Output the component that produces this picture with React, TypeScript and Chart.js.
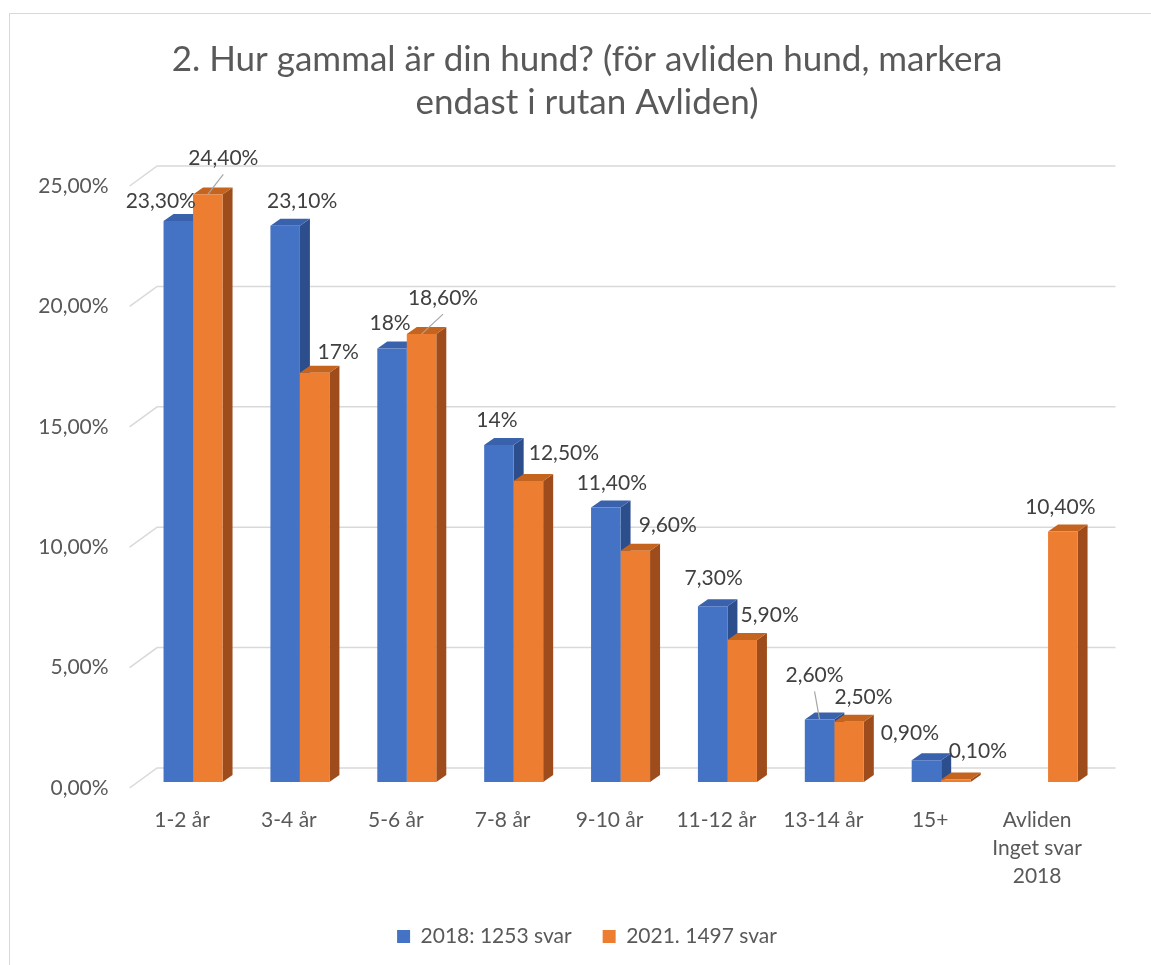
import React, { useEffect, useRef } from 'react';
import { Chart, registerables } from 'chart.js';

Chart.register(...registerables);

// ---- data ----
const categories: (string | string[])[] = [
  '1-2 år', '3-4 år', '5-6 år', '7-8 år', '9-10 år', '11-12 år', '13-14 år', '15+',
  ['Avliden', 'Inget svar', '2018'],
];
const series2018: (number | null)[] = [23.3, 23.1, 18, 14, 11.4, 7.3, 2.6, 0.9, null];
const series2021: (number | null)[] = [24.4, 17, 18.6, 12.5, 9.6, 5.9, 2.5, 0.1, 10.4];
const seriesNames = ['2018: 1253 svar', '2021. 1497 svar'];
const yTicks = [0, 5, 10, 15, 20, 25];
const titleLines = ['2. Hur gammal är din hund? (för avliden hund, markera', 'endast i rutan Avliden)'];

// label placement (offsets from bar top centre), as in the reference
const labelDx2018 = [-17.5, 17, -2, -2, 6, 1, -5, -16.5, 0];
const labelDy2018 = [-20, -25, -25, -25, -24, -28, -44, -27, 0];
const labelDx2021 = [15.5, 23.5, 21.5, 35.5, 32.5, 27.5, 14.5, 22, -2.5];
const labelDy2021 = [-36, -20, -36, -28, -26, -25, -25, -28, -24];
const leader2018 = [false, false, false, false, false, false, true, false, false];
const leader2021 = [true, false, true, false, false, false, false, false, false];

// ---- style ----
const FONT = 'Lato, "Open Sans", sans-serif';
const AXIS_COLOR = '#595959';
const LABEL_COLOR = '#404040';
const GRID_COLOR = '#D9D9D9';
const FRONT = ['#4472C4', '#ED7D31'];
const TOP = ['#3A62AC', '#C5641F'];
const SIDE = ['#2D4E8C', '#9E4C1B'];
const BAR_DX = 10;
const BAR_DY = 7;
const TEXT_SIZE = 21;

const fmt = (v: number) => (Number.isInteger(v) ? `${v}%` : `${v.toFixed(2).replace('.', ',')}%`);

const framePlugin = {
  id: 'frame',
  beforeDraw(chart: any) {
    const { ctx } = chart;
    ctx.save();
    ctx.fillStyle = '#ffffff';
    ctx.fillRect(0, 0, chart.width, chart.height);
    ctx.strokeStyle = '#D9D9D9';
    ctx.lineWidth = 1;
    ctx.strokeRect(9.5, 13.5, chart.width + 20, chart.height + 20);
    ctx.restore();
  },
};

const threeDPlugin = {
  id: 'threeD',
  beforeDatasetsDraw(chart: any) {
    const { ctx, chartArea, scales } = chart;
    const y = scales.y;
    ctx.save();
    // back wall grid with side-wall diagonals
    ctx.strokeStyle = GRID_COLOR;
    ctx.lineWidth = 1.5;
    for (const v of yTicks) {
      const py = y.getPixelForValue(v);
      ctx.beginPath();
      ctx.moveTo(chartArea.left - 10, py + 6);
      ctx.lineTo(chartArea.left + 17.5, py - 14);
      ctx.lineTo(chartArea.right + 14, py - 14);
      ctx.stroke();
    }
    // side and top faces of the bars
    const n = chart.data.labels.length;
    for (let i = 0; i < n; i++) {
      for (let d = 0; d < chart.data.datasets.length; d++) {
        const meta = chart.getDatasetMeta(d);
        const el = meta.data[i];
        const val = chart.data.datasets[d].data[i];
        if (!el || val === null || val === undefined) continue;
        const { x, y: top, base, width } = el.getProps(['x', 'y', 'base', 'width'], true);
        const l = x - width / 2;
        const r = x + width / 2;
        ctx.fillStyle = SIDE[d];
        ctx.beginPath();
        ctx.moveTo(r, top);
        ctx.lineTo(r + BAR_DX, top - BAR_DY);
        ctx.lineTo(r + BAR_DX, base - BAR_DY);
        ctx.lineTo(r, base);
        ctx.closePath();
        ctx.fill();
        ctx.fillStyle = TOP[d];
        ctx.beginPath();
        ctx.moveTo(l, top);
        ctx.lineTo(r, top);
        ctx.lineTo(r + BAR_DX, top - BAR_DY);
        ctx.lineTo(l + BAR_DX, top - BAR_DY);
        ctx.closePath();
        ctx.fill();
      }
    }
    ctx.restore();
  },
  afterDatasetsDraw(chart: any) {
    const { ctx } = chart;
    const dxs = [labelDx2018, labelDx2021];
    const dys = [labelDy2018, labelDy2021];
    const leaders = [leader2018, leader2021];
    ctx.save();
    ctx.font = `${TEXT_SIZE}px ${FONT}`;
    ctx.textAlign = 'center';
    ctx.textBaseline = 'middle';
    chart.data.datasets.forEach((ds: any, d: number) => {
      const meta = chart.getDatasetMeta(d);
      ds.data.forEach((v: number | null, i: number) => {
        if (v === null || v === undefined) return;
        const el = meta.data[i];
        const { x, y } = el.getProps(['x', 'y'], true);
        const lx = x + dxs[d][i];
        const ly = y + dys[d][i];
        if (leaders[d][i]) {
          ctx.strokeStyle = '#A6A6A6';
          ctx.lineWidth = 1.2;
          ctx.beginPath();
          ctx.moveTo(x, y);
          ctx.lineTo(lx, ly + 16);
          ctx.stroke();
        }
        ctx.fillStyle = LABEL_COLOR;
        ctx.fillText(fmt(v), lx, ly);
      });
    });
    ctx.restore();
  },
};

export default function App() {
  const ref = useRef<HTMLCanvasElement>(null);
  useEffect(() => {
    if (!ref.current) return;
    const chart = new Chart(ref.current, {
      type: 'bar',
      data: {
        labels: categories as any,
        datasets: [
          { label: seriesNames[0], data: series2018, backgroundColor: FRONT[0], borderWidth: 0 },
          { label: seriesNames[1], data: series2021, backgroundColor: FRONT[1], borderWidth: 0 },
        ],
      },
      options: {
        responsive: false,
        animation: false,
        datasets: { bar: { barPercentage: 1, categoryPercentage: 0.552 } },
        layout: { padding: { left: 30, right: 7, top: 0, bottom: 8 } },
        plugins: {
          title: {
            display: true,
            text: titleLines,
            color: AXIS_COLOR,
            font: { family: FONT, size: 35, weight: 'normal', lineHeight: 43 / 35 },
            padding: { top: 38.5, bottom: 55.5 },
          },
          legend: {
            position: 'bottom',
            labels: {
              boxWidth: 13,
              boxHeight: 13,
              color: AXIS_COLOR,
              font: { family: FONT, size: TEXT_SIZE },
              padding: 31,
            },
          },
          tooltip: { enabled: false },
        },
        scales: {
          x: {
            grid: { display: false, drawTicks: false },
            border: { display: false },
            ticks: {
              color: AXIS_COLOR,
              font: { family: FONT, size: TEXT_SIZE, lineHeight: 28 / TEXT_SIZE },
              padding: 24,
              labelOffset: -11,
              maxRotation: 0,
              autoSkip: false,
            },
            afterFit: (s: any) => { s.height = 113; },
          },
          y: {
            min: 0,
            max: 25,
            grid: { display: false, drawTicks: false },
            border: { display: false },
            ticks: {
              stepSize: 5,
              color: AXIS_COLOR,
              font: { family: FONT, size: TEXT_SIZE },
              padding: 31,
              labelOffset: 6,
              callback: (v: any) => `${Number(v).toFixed(2).replace('.', ',')}%`,
            },
            afterFit: (s: any) => { s.width = 109.6; },
          },
          yRight: {
            position: 'right',
            min: 0,
            max: 25,
            grid: { display: false, drawTicks: false },
            border: { display: false },
            ticks: { display: false },
            afterFit: (s: any) => { s.width = 42.5; },
          },
        },
      },
      plugins: [framePlugin, threeDPlugin],
    });
    return () => chart.destroy();
  }, []);
  return (
    <div style={{ position: 'absolute', left: 0, top: 0, width: 1151, height: 965 }}>
      <canvas ref={ref} width={1151} height={965} style={{ display: 'block' }} />
    </div>
  );
}
